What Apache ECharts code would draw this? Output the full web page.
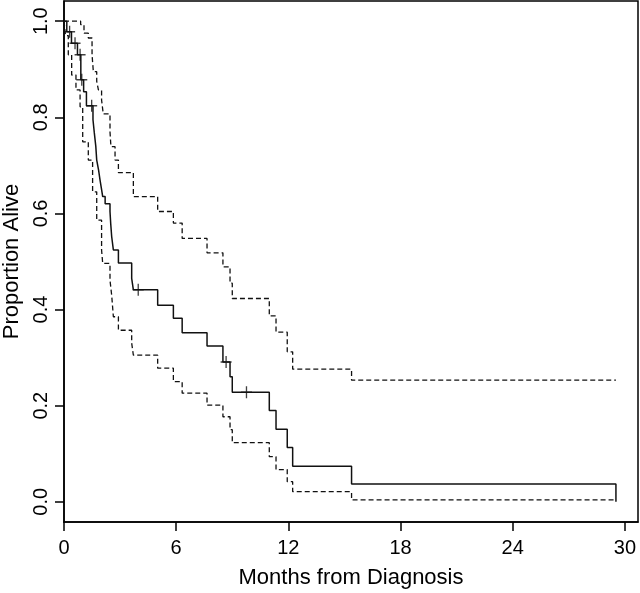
<!DOCTYPE html>
<html>
<head>
<meta charset="utf-8">
<script src="https://cdn.jsdelivr.net/npm/echarts@6/dist/echarts.min.js"></script>
<style>html,body{margin:0;padding:0;background:#fff}#chart{width:640px;height:593px}</style>
</head>
<body>
<div id="chart"></div>
<script>
const xTicks = [0, 6, 12, 18, 24, 30];
const yTicks = [0, 0.2, 0.4, 0.6, 0.8, 1.0];

const kmTime = [0, 0.15, 0.4, 0.72, 0.9, 1.05, 1.2, 1.55, 1.62, 1.7, 1.75, 1.85, 1.93, 2.0, 2.07, 2.2, 2.46, 2.5, 2.55, 2.64, 2.91, 3.62, 3.71, 5.01, 5.85, 6.32, 7.65, 8.5, 8.88, 9.0, 10.98, 11.34, 11.94, 12.23, 15.38, 29.52];
const kmSurv = [1.0, 0.978, 0.954, 0.93, 0.878, 0.853, 0.824, 0.795, 0.768, 0.74, 0.711, 0.69, 0.669, 0.652, 0.635, 0.62, 0.604, 0.578, 0.552, 0.524, 0.497, 0.465, 0.441, 0.409, 0.382, 0.352, 0.324, 0.291, 0.26, 0.228, 0.19, 0.151, 0.113, 0.074, 0.037, 0.0];

const upperTime = [0, 0.89, 1.07, 1.3, 1.5, 1.57, 1.75, 1.84, 2.01, 2.1, 2.46, 2.51, 2.73, 2.91, 3.71, 5.01, 5.85, 6.32, 7.65, 8.5, 8.88, 9.0, 10.98, 11.34, 11.94, 12.23, 15.38, 29.52];
const upperSurv = [1.0, 0.993, 0.975, 0.965, 0.93, 0.895, 0.875, 0.857, 0.836, 0.807, 0.77, 0.739, 0.711, 0.685, 0.635, 0.604, 0.58, 0.548, 0.518, 0.489, 0.455, 0.423, 0.387, 0.353, 0.312, 0.276, 0.253, 0.253];

const lowerTime = [0, 0.08, 0.23, 0.41, 0.64, 0.86, 1.0, 1.3, 1.53, 1.75, 2.01, 2.07, 2.46, 2.55, 2.64, 2.91, 3.62, 3.71, 5.01, 5.85, 6.32, 7.65, 8.5, 8.88, 9.0, 10.98, 11.34, 11.94, 12.23, 15.38, 29.52];
const lowerSurv = [1.0, 0.97, 0.93, 0.888, 0.857, 0.822, 0.749, 0.711, 0.645, 0.586, 0.524, 0.496, 0.461, 0.43, 0.385, 0.357, 0.33, 0.305, 0.278, 0.25, 0.226, 0.201, 0.177, 0.15, 0.123, 0.094, 0.067, 0.042, 0.021, 0.004, 0.004];

const censorTime = [0.3, 0.59, 0.86, 0.95, 1.48, 3.97, 8.67, 9.76];
const censorSurv = [0.978, 0.954, 0.93, 0.878, 0.824, 0.441, 0.291, 0.228];

const zip = (a, b) => a.map((v, i) => [v, b[i]]);
const ink = '#111';
const font = 'Liberation Sans, Arial, sans-serif';

const chart = echarts.init(document.getElementById('chart'), null, {renderer: 'canvas'});
chart.setOption({
  animation: false,
  backgroundColor: '#fff',
  grid: {left: 64, right: 2, top: 1, bottom: 71, show: true, borderColor: '#000', borderWidth: 1.5, backgroundColor: 'transparent', containLabel: false, outerBoundsMode: 'none'},
  xAxis: {
    type: 'value', min: 0, max: 30.7,
    name: 'Months from Diagnosis', nameLocation: 'middle', nameGap: 45,
    nameTextStyle: {fontFamily: font, fontSize: 22, color: '#000'},
    axisLine: {show: true, onZero: false, lineStyle: {color: '#000', width: 1.5}},
    axisTick: {show: true, length: 9, lineStyle: {color: '#000', width: 1.5}, customValues: xTicks},
    axisLabel: {fontFamily: font, fontSize: 20, color: '#000', margin: 16, customValues: xTicks, formatter: v => String(v)},
    splitLine: {show: false}
  },
  yAxis: {
    type: 'value', min: -0.042, max: 1.042,
    name: 'Proportion Alive', nameLocation: 'middle', nameGap: 40, nameRotate: 90,
    nameTextStyle: {fontFamily: font, fontSize: 22, color: '#000'},
    axisLine: {show: true, onZero: false, lineStyle: {color: '#000', width: 1.5}},
    axisTick: {show: true, length: 9, lineStyle: {color: '#000', width: 1.5}, customValues: yTicks},
    axisLabel: {fontFamily: font, fontSize: 20, color: '#000', margin: 13, rotate: 90, customValues: yTicks, formatter: v => v.toFixed(1)},
    splitLine: {show: false}
  },
  series: [
    {type: 'line', step: 'end', data: zip(upperTime, upperSurv), showSymbol: false, lineStyle: {color: ink, width: 1.3, type: [5, 3]}, z: 2},
    {type: 'line', step: 'end', data: zip(lowerTime, lowerSurv), showSymbol: false, lineStyle: {color: ink, width: 1.3, type: [5, 3]}, z: 2},
    {type: 'line', step: 'end', data: zip(kmTime, kmSurv), showSymbol: false, lineStyle: {color: ink, width: 1.5}, z: 3},
    {type: 'scatter', data: zip(censorTime, censorSurv), symbol: 'path://M0,4.4H10V5.6H0Z M4.4,0H5.6V10H4.4Z', symbolSize: [11, 12], itemStyle: {color: ink}, z: 4}
  ]
});
</script>
</body>
</html>
